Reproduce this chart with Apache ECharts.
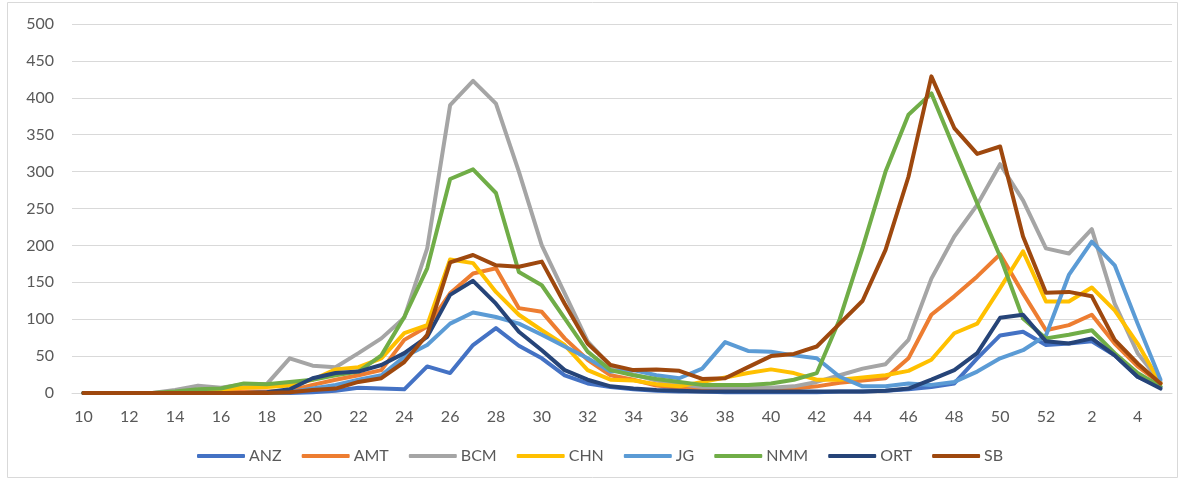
<!DOCTYPE html>
<html>
<head>
<meta charset="utf-8">
<script src="https://cdn.jsdelivr.net/npm/echarts@6/dist/echarts.min.js"></script>
<style>
html,body{margin:0;padding:0;background:#fff;}
#chart{width:1185px;height:480px;}
</style>
</head>
<body>
<div id="chart"></div>
<script>
// Categories: ISO weeks 10..52, then 1..5
const weeks = [10,11,12,13,14,15,16,17,18,19,20,21,22,23,24,25,26,27,28,29,30,31,32,33,34,35,36,37,38,39,40,41,42,43,44,45,46,47,48,49,50,51,52,1,2,3,4,5];

const ANZ = [0,0,0,0,0,0,0,0,0,0,1,3,7,6,5,36,27,65,88,64,47,24,13,8,5,3,2,2,1,1,1,1,1,2,2,3,5,8,13,47,78,83,65,67,70,51,22,8];
const AMT = [0,0,0,0,0,0,1,2,2,3,11,18,24,31,72,90,135,162,169,115,110,74,45,24,18,10,7,5,4,4,4,6,9,14,17,20,47,106,131,158,188,135,85,92,106,67,36,13];
const BCM = [0,0,0,0,4,10,7,12,12,47,37,35,54,74,102,196,390,423,392,300,200,135,70,36,25,17,12,8,7,7,7,9,15,24,33,39,72,155,212,255,310,261,196,189,222,121,54,15];
const CHN = [0,0,0,0,0,3,5,7,8,10,18,32,35,47,81,92,181,176,137,106,85,65,31,18,17,12,9,15,21,27,32,27,18,18,21,24,30,45,81,94,142,192,124,124,143,112,67,13];
const JG  = [0,0,0,0,0,0,0,0,0,1,6,11,18,24,49,65,94,109,103,94,79,63,47,29,31,24,20,33,69,57,56,51,47,22,9,9,13,11,15,29,47,58,78,160,205,173,94,18];
const NMM = [0,0,0,0,2,5,6,13,12,15,18,24,29,51,103,169,290,303,271,164,146,101,56,31,24,19,15,11,11,11,13,18,27,100,197,300,377,406,331,257,185,101,74,79,85,54,27,9];
const ORT = [0,0,0,0,0,0,0,0,1,5,20,27,29,38,54,76,133,152,121,83,58,31,18,9,6,4,3,2,2,2,2,2,2,2,2,3,6,18,31,54,102,106,70,67,74,51,22,6];
const SB  = [0,0,0,0,0,0,0,0,0,1,4,6,15,20,42,79,177,187,173,171,178,121,67,38,31,32,30,19,20,35,50,53,63,94,125,194,293,429,359,324,334,212,136,137,131,72,40,13];

const yTicks = {min: 0, max: 500, step: 50};

const seriesNames = ['ANZ','AMT','BCM','CHN','JG','NMM','ORT','SB'];
const seriesData = [ANZ, AMT, BCM, CHN, JG, NMM, ORT, SB];
const colors = ['#4472C4','#ED7D31','#A5A5A5','#FFC000','#5B9BD5','#70AD47','#264478','#9E480E'];

const FONT = 'Lato, "Open Sans", sans-serif';
const chart = echarts.init(document.getElementById('chart'), null, {renderer: 'canvas'});
chart.setOption({
  animation: false,
  color: colors,
  graphic: [{
    type: 'rect',
    shape: {x: 7.5, y: 2.5, width: 1170, height: 475},
    style: {fill: 'none', stroke: '#D9D9D9', lineWidth: 1},
    silent: true
  }],
  grid: {left: 72, right: 13, top: 24, bottom: 87, containLabel: false},
  legend: {
    left: 192,
    bottom: 11,
    icon: 'roundRect',
    itemWidth: 48,
    itemHeight: 4,
    itemGap: 20,
    textStyle: {color: '#595959', fontSize: 16, fontFamily: FONT, padding: [0,0,0,-1]},
    data: seriesNames
  },
  xAxis: {
    type: 'category',
    data: weeks,
    boundaryGap: true,
    axisLine: {show: true, lineStyle: {color: '#D9D9D9', width: 1}},
    axisTick: {show: false},
    axisLabel: {interval: 1, color: '#595959', fontSize: 16, fontFamily: FONT, margin: 16},
    splitLine: {show: false}
  },
  yAxis: {
    type: 'value',
    min: yTicks.min,
    max: yTicks.max,
    interval: yTicks.step,
    axisLine: {show: false},
    axisTick: {show: false},
    axisLabel: {color: '#595959', fontSize: 16, fontFamily: FONT, margin: 18},
    splitLine: {lineStyle: {color: '#D9D9D9', width: 1}}
  },
  series: seriesNames.map((n, i) => ({
    name: n,
    type: 'line',
    data: seriesData[i],
    showSymbol: false,
    symbol: 'none',
    smooth: false,
    lineStyle: {width: 4, color: colors[i], cap: 'round', join: 'round'},
    emphasis: {disabled: true}
  }))
});
</script>
</body>
</html>
